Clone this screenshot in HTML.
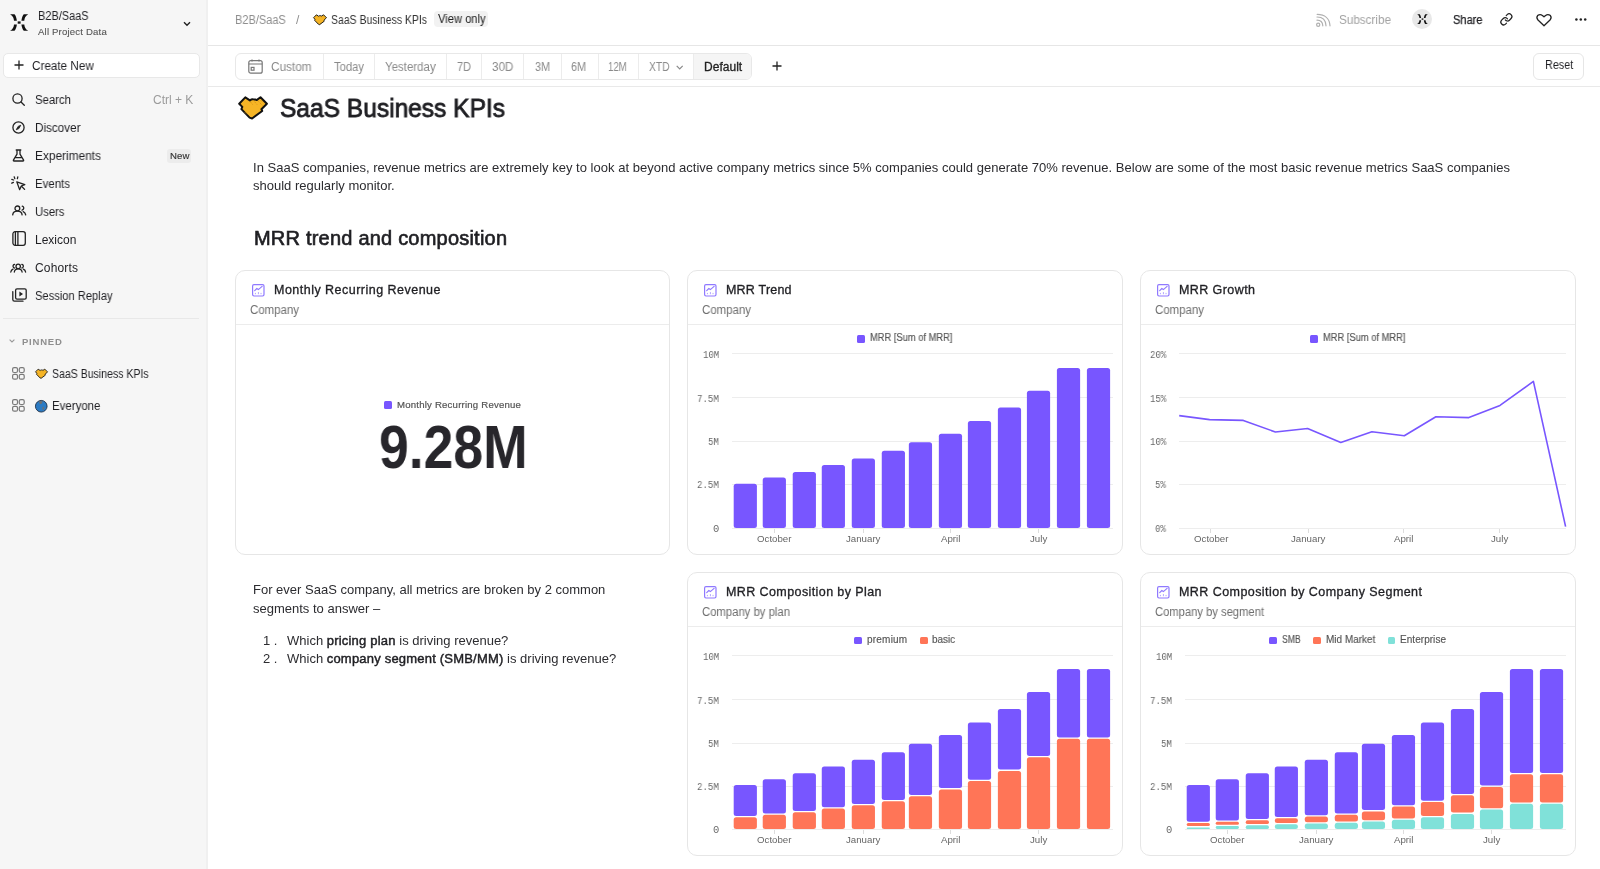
<!DOCTYPE html><html><head><meta charset="utf-8"><style>
html,body{margin:0;padding:0;width:1600px;height:869px;overflow:hidden;background:#fff;}
.t{position:absolute;white-space:nowrap;will-change:transform;}
.r{position:absolute;}
svg.r{overflow:visible}
</style></head><body>
<div class="r" style="left:0px;top:0px;width:208px;height:869px;background:#f6f6f6;"></div>
<div class="r" style="left:206px;top:0px;width:2px;height:869px;background:#f0f0f0;"></div>
<svg class="r" style="left:9.5px;top:14px" width="18.3" height="17.1" viewBox="0 0 18.3 17.1"><g fill="#111"><g id="bl"><path d="M0.1 0.3 L4.5 0.3 C5.6 1.4 6.5 4 6.9 6.7 L4 6.7 C3.8 4.6 3.1 2 0.1 0.3 Z"/></g>
<path transform="translate(18.3,0) scale(-1,1)" d="M0.1 0.3 L4.5 0.3 C5.6 1.4 6.5 4 6.9 6.7 L4 6.7 C3.8 4.6 3.1 2 0.1 0.3 Z"/>
<path transform="translate(0,17.1) scale(1,-1)" d="M0.1 0.3 L4.5 0.3 C5.6 1.4 6.5 4 6.9 6.7 L4 6.7 C3.8 4.6 3.1 2 0.1 0.3 Z"/>
<path transform="translate(18.3,17.1) scale(-1,-1)" d="M0.1 0.3 L4.5 0.3 C5.6 1.4 6.5 4 6.9 6.7 L4 6.7 C3.8 4.6 3.1 2 0.1 0.3 Z"/>
<rect x="7.7" y="7.4" width="2.9" height="2.3"/></g></svg>
<div class="t" style="left:38.00px;top:9.50px;font-size:12px;line-height:12px;color:#1f1f23;font-family:'Liberation Sans',sans-serif;transform:scaleX(0.9138);transform-origin:0 0;">B2B/SaaS</div>
<div class="t" style="left:38.00px;top:27.44px;font-size:9.6px;line-height:9.6px;color:#555;font-family:'Liberation Sans',sans-serif;letter-spacing:0.176px;-webkit-text-stroke:0.1px #555;">All Project Data</div>
<svg class="r" style="left:183px;top:20.7px" width="8" height="6" viewBox="0 0 8 6"><path d="M1 1.2 L4 4.2 L7 1.2" fill="none" stroke="#222" stroke-width="1.4"/></svg>
<div class="r" style="left:3px;top:52.5px;width:196.5px;height:25.5px;background:#fff;border:1px solid #e8e8e8;box-sizing:border-box;border-radius:5px;"></div>
<svg class="r" style="left:14px;top:60px" width="10" height="10" viewBox="0 0 10 10"><path d="M5 0.5V9.5M0.5 5H9.5" stroke="#222" stroke-width="1.3"/></svg>
<div class="t" style="left:32.40px;top:59.90px;font-size:12px;line-height:12px;color:#1f1f23;font-family:'Liberation Sans',sans-serif;transform:scaleX(0.9754);transform-origin:0 0;">Create New</div>
<div class="t" style="left:35.00px;top:93.50px;font-size:12px;line-height:12px;color:#1f1f23;font-family:'Liberation Sans',sans-serif;transform:scaleX(0.9468);transform-origin:0 0;">Search</div>
<div class="t" style="left:35.00px;top:121.50px;font-size:12px;line-height:12px;color:#1f1f23;font-family:'Liberation Sans',sans-serif;transform:scaleX(0.9748);transform-origin:0 0;">Discover</div>
<div class="t" style="left:35.00px;top:149.50px;font-size:12px;line-height:12px;color:#1f1f23;font-family:'Liberation Sans',sans-serif;transform:scaleX(0.9896);transform-origin:0 0;">Experiments</div>
<div class="t" style="left:35.00px;top:177.50px;font-size:12px;line-height:12px;color:#1f1f23;font-family:'Liberation Sans',sans-serif;transform:scaleX(0.9540);transform-origin:0 0;">Events</div>
<div class="t" style="left:35.00px;top:205.50px;font-size:12px;line-height:12px;color:#1f1f23;font-family:'Liberation Sans',sans-serif;transform:scaleX(0.9414);transform-origin:0 0;">Users</div>
<div class="t" style="left:35.00px;top:233.50px;font-size:12px;line-height:12px;color:#1f1f23;font-family:'Liberation Sans',sans-serif;transform:scaleX(0.9912);transform-origin:0 0;">Lexicon</div>
<div class="t" style="left:35.00px;top:261.50px;font-size:12px;line-height:12px;color:#1f1f23;font-family:'Liberation Sans',sans-serif;letter-spacing:0.164px;">Cohorts</div>
<div class="t" style="left:35.00px;top:289.50px;font-size:12px;line-height:12px;color:#1f1f23;font-family:'Liberation Sans',sans-serif;transform:scaleX(0.9295);transform-origin:0 0;">Session Replay</div>
<div class="t" style="left:152.90px;top:93.50px;font-size:12px;line-height:12px;color:#9b9b9b;font-family:'Liberation Sans',sans-serif;transform:scaleX(0.9915);transform-origin:0 0;">Ctrl + K</div>
<div class="r" style="left:166.9px;top:148.6px;width:24.2px;height:14.2px;background:#ececec;border-radius:3px;"></div>
<div class="t" style="left:169.65px;top:150.94px;font-size:9.6px;line-height:9.6px;color:#333;font-family:'Liberation Sans',sans-serif;letter-spacing:0.147px;-webkit-text-stroke:0.15px #333;">New</div>
<svg class="r" style="left:12px;top:92.5px" width="13" height="13" viewBox="0 0 13 13"><circle cx="5.5" cy="5.5" r="4.6" fill="none" stroke="#222" stroke-width="1.3" stroke-linecap="round" stroke-linejoin="round"/><path d="M9 9 L12.3 12.3" fill="none" stroke="#222" stroke-width="1.3" stroke-linecap="round" stroke-linejoin="round"/></svg>
<svg class="r" style="left:12px;top:120.5px" width="13" height="13" viewBox="0 0 13 13"><circle cx="6.5" cy="6.5" r="5.6" fill="none" stroke="#222" stroke-width="1.3" stroke-linecap="round" stroke-linejoin="round"/><path d="M8.8 4.2 L6.9 7.6 L4.2 8.8 L6.1 5.4Z" fill="#222" stroke="#222" stroke-width="0.8" stroke-linejoin="round"/></svg>
<svg class="r" style="left:12px;top:148.5px" width="13" height="13" viewBox="0 0 13 13"><path d="M4.2 1 H8.8 M5 1 V5.2 L1.4 11.2 Q1.2 12 2 12 H11 Q11.8 12 11.6 11.2 L8 5.2 V1 M3 8.6 H10" fill="none" stroke="#222" stroke-width="1.3" stroke-linecap="round" stroke-linejoin="round"/></svg>
<svg class="r" style="left:11px;top:176px" width="15" height="15" viewBox="0 0 15 15"><path d="M5.8 5.8 L13.8 8.6 L10.3 10 L8.6 13.6Z" fill="none" stroke="#222" stroke-width="1.3" stroke-linecap="round" stroke-linejoin="round"/><path d="M3.2 0.8 L3.8 2.6 M0.8 3.4 L2.6 4 M0.8 7.2 L2.4 6.4 M6.8 0.8 L6.4 2.6" fill="none" stroke="#222" stroke-width="1.3" stroke-linecap="round" stroke-linejoin="round"/><path d="M10.5 10.2 L13.6 13.4" fill="none" stroke="#222" stroke-width="1.3" stroke-linecap="round" stroke-linejoin="round"/></svg>
<svg class="r" style="left:11.5px;top:205px" width="14.5" height="10.5" viewBox="0 0 14.5 10.5"><circle cx="5.4" cy="3.4" r="2.4" fill="none" stroke="#222" stroke-width="1.3" stroke-linecap="round" stroke-linejoin="round"/><path d="M0.7 9.8 C1 7.4 2.8 6.2 5.4 6.2 C8 6.2 9.8 7.4 10.1 9.8" fill="none" stroke="#222" stroke-width="1.3" stroke-linecap="round" stroke-linejoin="round"/><path d="M10.2 1.2 C11.6 1.6 12 2.8 11.6 3.8 C11.3 4.6 10.6 5 10 5.1 M11.2 6.6 C12.6 7.2 13.4 8.2 13.7 9.8" fill="none" stroke="#222" stroke-width="1.3" stroke-linecap="round" stroke-linejoin="round"/></svg>
<svg class="r" style="left:11.5px;top:231.3px" width="14" height="15" viewBox="0 0 14 15"><rect x="0.9" y="0.7" width="12.4" height="13.6" rx="2.2" fill="none" stroke="#222" stroke-width="1.3" stroke-linecap="round" stroke-linejoin="round"/><path d="M3.4 1 V14 M5.9 1 V14" fill="none" stroke="#222" stroke-width="1.3" stroke-linecap="round" stroke-linejoin="round"/></svg>
<svg class="r" style="left:10px;top:263px" width="16.5" height="9.5" viewBox="0 0 16.5 9.5"><circle cx="8.2" cy="3.4" r="2.2" fill="none" stroke="#222" stroke-width="1.3" stroke-linecap="round" stroke-linejoin="round"/><path d="M4.3 9 C4.5 6.8 6 5.8 8.2 5.8 C10.4 5.8 11.9 6.8 12.1 9" fill="none" stroke="#222" stroke-width="1.3" stroke-linecap="round" stroke-linejoin="round"/><path d="M4.6 1.4 C3.4 1.6 2.9 2.6 3.1 3.6 C3.3 4.4 3.9 4.9 4.5 5 M3 6.2 C1.7 6.8 1 7.8 0.8 9" fill="none" stroke="#222" stroke-width="1.3" stroke-linecap="round" stroke-linejoin="round"/><path d="M11.8 1.4 C13 1.6 13.5 2.6 13.3 3.6 C13.1 4.4 12.5 4.9 11.9 5 M13.4 6.2 C14.7 6.8 15.4 7.8 15.6 9" fill="none" stroke="#222" stroke-width="1.3" stroke-linecap="round" stroke-linejoin="round"/></svg>
<svg class="r" style="left:11.5px;top:287.5px" width="15" height="14" viewBox="0 0 15 14"><rect x="3.6" y="0.8" width="10.6" height="10.4" rx="1.4" fill="none" stroke="#222" stroke-width="1.3" stroke-linecap="round" stroke-linejoin="round"/><path d="M0.8 3.6 V11.6 Q0.8 13.2 2.4 13.2 H11" fill="none" stroke="#222" stroke-width="1.3" stroke-linecap="round" stroke-linejoin="round"/><path d="M7.4 3.6 L11 6 L7.4 8.4Z" fill="#222"/></svg>
<div class="r" style="left:3px;top:318px;width:196px;height:1px;background:#e8e8e8;"></div>
<svg class="r" style="left:8.5px;top:339px" width="6" height="4" viewBox="0 0 6 4"><path d="M0.6 0.6 L3 3 L5.4 0.6" fill="none" stroke="#999" stroke-width="1.1"/></svg>
<div class="t" style="left:21.50px;top:336.82px;font-size:9.5px;line-height:9.5px;color:#8f8f8f;font-family:'Liberation Sans',sans-serif;font-weight:700;letter-spacing:0.781px;">PINNED</div>
<svg class="r" style="left:12.2px;top:367.2px" width="12.8" height="12.8" viewBox="0 0 12.8 12.8"><g fill="none" stroke="#7a7a7a" stroke-width="1.2"><rect x="0.6" y="0.6" width="4.9" height="4.9" rx="1.5"/><rect x="7.3" y="0.6" width="4.9" height="4.9" rx="1.5"/><rect x="0.6" y="7.3" width="4.9" height="4.9" rx="1.5"/><rect x="7.3" y="7.3" width="4.9" height="4.9" rx="1.5"/></g></svg>
<svg class="r" style="left:12.2px;top:399.2px" width="12.8" height="12.8" viewBox="0 0 12.8 12.8"><g fill="none" stroke="#7a7a7a" stroke-width="1.2"><rect x="0.6" y="0.6" width="4.9" height="4.9" rx="1.5"/><rect x="7.3" y="0.6" width="4.9" height="4.9" rx="1.5"/><rect x="0.6" y="7.3" width="4.9" height="4.9" rx="1.5"/><rect x="7.3" y="7.3" width="4.9" height="4.9" rx="1.5"/></g></svg>
<svg class="r" style="left:34.5px;top:367.5px" width="13" height="11.5" viewBox="0 0 30 24"><path d="M1.2 7.7 L7.3 1.4 L11.9 4.4 Q13.5 3 15.1 3.2 Q17 3.3 18.6 4.1 L22.5 1.3 L28.9 7.7 L23.4 13.2 L24.2 15 L14.1 22.5 L11.6 21.6 L3.4 13.1 L4.3 10.9 Z" fill="#f6b526" stroke="#111" stroke-width="2" stroke-linejoin="round"/><path d="M12.5 6 L15 9 M15.5 4.5 L19 8.5 M20.5 5.5 L24.5 9.5 M22.5 4 L26 7.5 M6.5 16 L9.5 19" stroke="#c88a10" stroke-width="0.9" stroke-dasharray="1 1.2" fill="none"/></svg>
<svg class="r" style="left:34.5px;top:399.7px" width="12.5" height="12.5" viewBox="0 0 12.5 12.5"><circle cx="6.25" cy="6.25" r="5.8" fill="#2b7bc4" stroke="#1d2f45" stroke-width="0.9"/><path d="M4.2 1.2 Q6.4 0.8 7.6 1.6 Q7.4 3 6.6 3.6 Q5.6 4.6 4.8 3.8 Q3.8 2.6 4.2 1.2Z M7.6 6.4 Q9 6.8 9.4 8 Q8.8 9.6 7.6 10.4 Q7.4 8.4 7.6 6.4Z" fill="#6f6f6f"/></svg>
<div class="t" style="left:52.40px;top:367.80px;font-size:12px;line-height:12px;color:#1f1f23;font-family:'Liberation Sans',sans-serif;transform:scaleX(0.8777);transform-origin:0 0;">SaaS Business KPIs</div>
<div class="t" style="left:51.60px;top:399.60px;font-size:12px;line-height:12px;color:#1f1f23;font-family:'Liberation Sans',sans-serif;transform:scaleX(0.9547);transform-origin:0 0;">Everyone</div>
<div class="r" style="left:208px;top:45px;width:1392px;height:1px;background:#e6e6e6;"></div>
<div class="t" style="left:234.60px;top:14.00px;font-size:12px;line-height:12px;color:#8e8e8e;font-family:'Liberation Sans',sans-serif;transform:scaleX(0.9174);transform-origin:0 0;">B2B/SaaS</div>
<div class="t" style="left:295.50px;top:14.00px;font-size:12px;line-height:12px;color:#8e8e8e;font-family:'Liberation Sans',sans-serif;">/</div>
<svg class="r" style="left:312.5px;top:13.5px" width="14" height="11.5" viewBox="0 0 30 24"><path d="M1.2 7.7 L7.3 1.4 L11.9 4.4 Q13.5 3 15.1 3.2 Q17 3.3 18.6 4.1 L22.5 1.3 L28.9 7.7 L23.4 13.2 L24.2 15 L14.1 22.5 L11.6 21.6 L3.4 13.1 L4.3 10.9 Z" fill="#f6b526" stroke="#111" stroke-width="2" stroke-linejoin="round"/><path d="M12.5 6 L15 9 M15.5 4.5 L19 8.5 M20.5 5.5 L24.5 9.5 M22.5 4 L26 7.5 M6.5 16 L9.5 19" stroke="#c88a10" stroke-width="0.9" stroke-dasharray="1 1.2" fill="none"/></svg>
<div class="t" style="left:331.00px;top:14.00px;font-size:12px;line-height:12px;color:#333;font-family:'Liberation Sans',sans-serif;transform:scaleX(0.8723);transform-origin:0 0;">SaaS Business KPIs</div>
<div class="r" style="left:434px;top:10.9px;width:53.5px;height:16.2px;background:#f2f2f2;border-radius:4px;"></div>
<div class="t" style="left:437.50px;top:13.30px;font-size:12px;line-height:12px;color:#1d1d1d;font-family:'Liberation Sans',sans-serif;transform:scaleX(0.9288);transform-origin:0 0;">View only</div>
<svg class="r" style="left:1315.5px;top:13.5px" width="15.5" height="13" viewBox="0 0 15.5 13"><g fill="none" stroke="#b0b0b0" stroke-width="1.2" stroke-linecap="round"><circle cx="2.2" cy="10.8" r="1.6"/><path d="M1 6.2 C4.6 6.2 6.6 8.2 6.8 11.8"/><path d="M1 3 C6.6 3 9.8 6.2 10 11.8"/><path d="M1.2 0.4 C8.8 0.4 13.6 4.6 14 11.8"/></g></svg>
<div class="t" style="left:1339.30px;top:13.80px;font-size:12px;line-height:12px;color:#a3a3a3;font-family:'Liberation Sans',sans-serif;transform:scaleX(0.9744);transform-origin:0 0;">Subscribe</div>
<svg class="r" style="left:1412px;top:9.25px" width="20" height="20" viewBox="0 0 20 20"><circle cx="10" cy="10" r="10" fill="#e8e8e8"/></svg>
<svg class="r" style="left:1416.5px;top:14.2px" width="11" height="10.2" viewBox="0 0 18.3 17.1"><g fill="#111"><g id="bl"><path d="M0.1 0.3 L4.5 0.3 C5.6 1.4 6.5 4 6.9 6.7 L4 6.7 C3.8 4.6 3.1 2 0.1 0.3 Z"/></g>
<path transform="translate(18.3,0) scale(-1,1)" d="M0.1 0.3 L4.5 0.3 C5.6 1.4 6.5 4 6.9 6.7 L4 6.7 C3.8 4.6 3.1 2 0.1 0.3 Z"/>
<path transform="translate(0,17.1) scale(1,-1)" d="M0.1 0.3 L4.5 0.3 C5.6 1.4 6.5 4 6.9 6.7 L4 6.7 C3.8 4.6 3.1 2 0.1 0.3 Z"/>
<path transform="translate(18.3,17.1) scale(-1,-1)" d="M0.1 0.3 L4.5 0.3 C5.6 1.4 6.5 4 6.9 6.7 L4 6.7 C3.8 4.6 3.1 2 0.1 0.3 Z"/>
<rect x="7.7" y="7.4" width="2.9" height="2.3"/></g></svg>
<div class="t" style="left:1452.50px;top:13.80px;font-size:12px;line-height:12px;color:#1f1f23;font-family:'Liberation Sans',sans-serif;transform:scaleX(0.9212);transform-origin:0 0;-webkit-text-stroke:0.25px #1f1f23;">Share</div>
<svg class="r" style="left:1500.2px;top:13.4px" width="13" height="12" viewBox="0.5 0.5 23.5 21.7"><g fill="none" stroke="#222" stroke-width="2.2" stroke-linecap="round" stroke-linejoin="round"><path d="M10 13a5 5 0 0 0 7.54.54l3-3a5 5 0 0 0-7.07-7.07l-1.72 1.71"/><path d="M14 11a5 5 0 0 0-7.54-.54l-3 3a5 5 0 0 0 7.07 7.07l1.71-1.71"/></g></svg>
<svg class="r" style="left:1536px;top:13.5px" width="16" height="12.5" viewBox="0 0 16 12.5"><path d="M8 11.8 L2 6 Q0 3.6 1.6 1.6 Q4 -0.4 6.4 1.4 L8 2.8 L9.6 1.4 Q12 -0.4 14.4 1.6 Q16 3.6 14 6Z" fill="none" stroke="#222" stroke-width="1.3" stroke-linejoin="round"/></svg>
<svg class="r" style="left:1575px;top:18px" width="12" height="3" viewBox="0 0 12 3"><circle cx="1.4" cy="1.5" r="1.25" fill="#222"/><circle cx="5.8" cy="1.5" r="1.25" fill="#222"/><circle cx="10.2" cy="1.5" r="1.25" fill="#222"/></svg>
<div class="r" style="left:208px;top:86px;width:1392px;height:1px;background:#e9e9e9;"></div>
<div class="r" style="left:235px;top:52.5px;width:517px;height:27px;background:#fff;border:1px solid #e8e8e8;box-sizing:border-box;border-radius:6px;"></div>
<div class="r" style="left:693px;top:53.5px;width:58px;height:25px;background:#f5f5f5;border-radius:0 5px 5px 0;"></div>
<div class="r" style="left:322.6px;top:53.5px;width:1px;height:25px;background:#ececec;"></div>
<div class="r" style="left:374.4px;top:53.5px;width:1px;height:25px;background:#ececec;"></div>
<div class="r" style="left:446.3px;top:53.5px;width:1px;height:25px;background:#ececec;"></div>
<div class="r" style="left:480.5px;top:53.5px;width:1px;height:25px;background:#ececec;"></div>
<div class="r" style="left:523.2px;top:53.5px;width:1px;height:25px;background:#ececec;"></div>
<div class="r" style="left:560.7px;top:53.5px;width:1px;height:25px;background:#ececec;"></div>
<div class="r" style="left:597.5px;top:53.5px;width:1px;height:25px;background:#ececec;"></div>
<div class="r" style="left:638px;top:53.5px;width:1px;height:25px;background:#ececec;"></div>
<div class="r" style="left:693px;top:53.5px;width:1px;height:25px;background:#ececec;"></div>
<svg class="r" style="left:247.5px;top:59.1px" width="15" height="15" viewBox="0 0 15 15"><g fill="none" stroke="#777" stroke-width="1.2"><rect x="0.8" y="1.6" width="13.4" height="12.6" rx="2"/><path d="M0.8 5 H14.2 M4 0.4 V2.4 M11 0.4 V2.4"/><rect x="3.2" y="8.4" width="2.8" height="2.8"/></g></svg>
<div class="t" style="left:271.40px;top:60.80px;font-size:12px;line-height:12px;color:#8a8a8a;font-family:'Liberation Sans',sans-serif;transform:scaleX(0.9820);transform-origin:0 0;">Custom</div>
<div class="t" style="left:333.90px;top:60.80px;font-size:12px;line-height:12px;color:#8a8a8a;font-family:'Liberation Sans',sans-serif;transform:scaleX(0.9369);transform-origin:0 0;">Today</div>
<div class="t" style="left:384.90px;top:60.80px;font-size:12px;line-height:12px;color:#8a8a8a;font-family:'Liberation Sans',sans-serif;transform:scaleX(0.9560);transform-origin:0 0;">Yesterday</div>
<div class="t" style="left:456.80px;top:60.80px;font-size:12px;line-height:12px;color:#8a8a8a;font-family:'Liberation Sans',sans-serif;transform:scaleX(0.9061);transform-origin:0 0;">7D</div>
<div class="t" style="left:491.70px;top:60.80px;font-size:12px;line-height:12px;color:#8a8a8a;font-family:'Liberation Sans',sans-serif;transform:scaleX(0.9721);transform-origin:0 0;">30D</div>
<div class="t" style="left:534.50px;top:60.80px;font-size:12px;line-height:12px;color:#8a8a8a;font-family:'Liberation Sans',sans-serif;transform:scaleX(0.8998);transform-origin:0 0;">3M</div>
<div class="t" style="left:571.20px;top:60.80px;font-size:12px;line-height:12px;color:#8a8a8a;font-family:'Liberation Sans',sans-serif;transform:scaleX(0.8998);transform-origin:0 0;">6M</div>
<div class="t" style="left:608.00px;top:60.80px;font-size:12px;line-height:12px;color:#8a8a8a;font-family:'Liberation Sans',sans-serif;transform:scaleX(0.8010);transform-origin:0 0;">12M</div>
<div class="t" style="left:648.80px;top:60.80px;font-size:12px;line-height:12px;color:#8a8a8a;font-family:'Liberation Sans',sans-serif;transform:scaleX(0.8583);transform-origin:0 0;">XTD</div>
<div class="t" style="left:703.60px;top:60.80px;font-size:12px;line-height:12px;color:#222;font-family:'Liberation Sans',sans-serif;letter-spacing:0.030px;-webkit-text-stroke:0.3px #222;">Default</div>
<svg class="r" style="left:675.5px;top:65px" width="7.5" height="5" viewBox="0 0 7.5 5"><path d="M0.7 0.8 L3.7 3.8 L6.7 0.8" fill="none" stroke="#8a8a8a" stroke-width="1.2"/></svg>
<svg class="r" style="left:771.5px;top:61px" width="10" height="10" viewBox="0 0 10 10"><path d="M5 0.5V9.5M0.5 5H9.5" stroke="#222" stroke-width="1.3"/></svg>
<div class="r" style="left:1533.3px;top:52.5px;width:51.2px;height:27px;background:#fff;border:1px solid #e6e6e6;box-sizing:border-box;border-radius:6px;"></div>
<div class="t" style="left:1545.00px;top:59.40px;font-size:12px;line-height:12px;color:#1f1f23;font-family:'Liberation Sans',sans-serif;transform:scaleX(0.9028);transform-origin:0 0;">Reset</div>
<svg class="r" style="left:238px;top:96px" width="30" height="24" viewBox="0 0 30 24"><path d="M1.2 7.7 L7.3 1.4 L11.9 4.4 Q13.5 3 15.1 3.2 Q17 3.3 18.6 4.1 L22.5 1.3 L28.9 7.7 L23.4 13.2 L24.2 15 L14.1 22.5 L11.6 21.6 L3.4 13.1 L4.3 10.9 Z" fill="#f6b526" stroke="#111" stroke-width="2" stroke-linejoin="round"/><path d="M12.5 6 L15 9 M15.5 4.5 L19 8.5 M20.5 5.5 L24.5 9.5 M22.5 4 L26 7.5 M6.5 16 L9.5 19" stroke="#c88a10" stroke-width="0.9" stroke-dasharray="1 1.2" fill="none"/></svg>
<div class="t" style="left:279.70px;top:94.80px;font-size:26px;line-height:26px;color:#1f1f23;font-family:'Liberation Sans',sans-serif;transform:scaleX(0.9435);transform-origin:0 0;-webkit-text-stroke:0.85px #1f1f23;">SaaS Business KPIs</div>
<div class="t" style="left:253.00px;top:161.35px;font-size:13px;line-height:13px;color:#2c2c30;font-family:'Liberation Sans',sans-serif;letter-spacing:0.016px;">In SaaS companies, revenue metrics are extremely key to look at beyond active company metrics since 5% companies could generate 70% revenue. Below are some of the most basic revenue metrics SaaS companies</div>
<div class="t" style="left:253.00px;top:179.35px;font-size:13px;line-height:13px;color:#2c2c30;font-family:'Liberation Sans',sans-serif;">should regularly monitor.</div>
<div class="t" style="left:254.00px;top:227.60px;font-size:20px;line-height:20px;color:#1f1f23;font-family:'Liberation Sans',sans-serif;letter-spacing:0.213px;-webkit-text-stroke:0.65px #1f1f23;">MRR trend and composition</div>
<div class="t" style="left:253.00px;top:583.45px;font-size:13px;line-height:13px;color:#2c2c30;font-family:'Liberation Sans',sans-serif;transform:scaleX(0.9990);transform-origin:0 0;">For ever SaaS company, all metrics are broken by 2 common</div>
<div class="t" style="left:253.00px;top:601.55px;font-size:13px;line-height:13px;color:#2c2c30;font-family:'Liberation Sans',sans-serif;">segments to answer –</div>
<div class="t" style="left:262.70px;top:634.25px;font-size:13px;line-height:13px;color:#2c2c30;font-family:'Liberation Sans',sans-serif;">1 .</div>
<div class="t" style="left:262.70px;top:652.05px;font-size:13px;line-height:13px;color:#2c2c30;font-family:'Liberation Sans',sans-serif;">2 .</div>
<div class="t" style="left:286.9px;top:634.25px;font-size:13px;line-height:13px;color:#2c2c30;font-family:'Liberation Sans',sans-serif;">Which <span style="color:#1f1f23;-webkit-text-stroke:0.45px #1f1f23;letter-spacing:0.2px">pricing plan</span> is driving revenue?</div>
<div class="t" style="left:286.9px;top:652.05px;font-size:13px;line-height:13px;color:#2c2c30;font-family:'Liberation Sans',sans-serif;">Which <span style="color:#1f1f23;-webkit-text-stroke:0.45px #1f1f23;letter-spacing:0.2px">company segment (SMB/MM)</span> is driving revenue?</div>
<div class="r" style="left:235px;top:270px;width:435px;height:285px;background:#fff;border:1px solid #e6e6e6;box-sizing:border-box;border-radius:10px;"></div>
<div class="r" style="left:236px;top:324px;width:433px;height:1px;background:#ececec;"></div>
<svg class="r" style="left:251.5px;top:283.8px" width="12.6" height="12.6" viewBox="0 0 12.6 12.6"><g fill="none" stroke="#8f79ff" stroke-width="1.2"><rect x="0.6" y="0.6" width="11.4" height="11.4" rx="1.4"/><path d="M2.7 6.6 L4.8 4.5 L6.4 5.6 L10.1 2.4" stroke-linecap="round"/></g><g fill="#b9abff"><rect x="2.9" y="8.9" width="1.1" height="1.3"/><rect x="5.9" y="8.1" width="1.1" height="2.1"/><rect x="8.5" y="8.9" width="1.1" height="1.3"/></g></svg>
<div class="t" style="left:274.40px;top:284.48px;font-size:12.5px;line-height:12.5px;color:#1f1f23;font-family:'Liberation Sans',sans-serif;letter-spacing:0.482px;-webkit-text-stroke:0.32px #1f1f23;">Monthly Recurring Revenue</div>
<div class="t" style="left:249.50px;top:304.20px;font-size:12px;line-height:12px;color:#6e6e6e;font-family:'Liberation Sans',sans-serif;transform:scaleX(0.9541);transform-origin:0 0;">Company</div>
<div class="r" style="left:383.8px;top:400.6px;width:8.3px;height:8.2px;background:#7856ff;border-radius:1.5px;"></div>
<div class="t" style="left:396.80px;top:400.34px;font-size:9.6px;line-height:9.6px;color:#555;font-family:'Liberation Sans',sans-serif;letter-spacing:0.209px;-webkit-text-stroke:0.2px #555;">Monthly Recurring Revenue</div>
<div class="t" style="left:379.30px;top:416.30px;font-size:62px;line-height:62px;color:#27262b;font-family:'Liberation Sans',sans-serif;font-weight:700;transform:scaleX(0.8618);transform-origin:0 0;">9.28M</div>
<div class="r" style="left:687px;top:270px;width:436px;height:285px;background:#fff;border:1px solid #e6e6e6;box-sizing:border-box;border-radius:10px;"></div>
<div class="r" style="left:688px;top:324px;width:434px;height:1px;background:#ececec;"></div>
<svg class="r" style="left:703.5px;top:283.8px" width="12.6" height="12.6" viewBox="0 0 12.6 12.6"><g fill="none" stroke="#8f79ff" stroke-width="1.2"><rect x="0.6" y="0.6" width="11.4" height="11.4" rx="1.4"/><path d="M2.7 6.6 L4.8 4.5 L6.4 5.6 L10.1 2.4" stroke-linecap="round"/></g><g fill="#b9abff"><rect x="2.9" y="8.9" width="1.1" height="1.3"/><rect x="5.9" y="8.1" width="1.1" height="2.1"/><rect x="8.5" y="8.9" width="1.1" height="1.3"/></g></svg>
<div class="t" style="left:726.40px;top:284.48px;font-size:12.5px;line-height:12.5px;color:#1f1f23;font-family:'Liberation Sans',sans-serif;letter-spacing:0.199px;-webkit-text-stroke:0.32px #1f1f23;">MRR Trend</div>
<div class="t" style="left:701.50px;top:304.20px;font-size:12px;line-height:12px;color:#6e6e6e;font-family:'Liberation Sans',sans-serif;transform:scaleX(0.9541);transform-origin:0 0;">Company</div>
<div class="r" style="left:857.4px;top:335.0px;width:7.8px;height:7.8px;background:#7856ff;border-radius:1.5px;"></div>
<div class="t" style="left:870.00px;top:333.40px;font-size:10px;line-height:10px;color:#555;font-family:'Liberation Sans',sans-serif;transform:scaleX(0.9339);transform-origin:0 0;-webkit-text-stroke:0.15px #555;">MRR [Sum of MRR]</div>
<div class="r" style="left:731.8px;top:528px;width:380.9000000000001px;height:1px;background:#ededed;"></div>
<div class="t" style="left:712.70px;top:523.72px;font-size:10.5px;line-height:10.5px;color:#6a6a6a;font-family:'Liberation Mono',monospace;">0</div>
<div class="r" style="left:731.8px;top:484px;width:380.9000000000001px;height:1px;background:#ededed;"></div>
<div class="t" style="left:697.20px;top:480.07px;font-size:10.5px;line-height:10.5px;color:#6a6a6a;font-family:'Liberation Mono',monospace;transform:scaleX(0.8650);transform-origin:0 0;">2.5M</div>
<div class="r" style="left:731.8px;top:441px;width:380.9000000000001px;height:1px;background:#ededed;"></div>
<div class="t" style="left:708.10px;top:437.42px;font-size:10.5px;line-height:10.5px;color:#6a6a6a;font-family:'Liberation Mono',monospace;transform:scaleX(0.8650);transform-origin:0 0;">5M</div>
<div class="r" style="left:731.8px;top:397px;width:380.9000000000001px;height:1px;background:#ededed;"></div>
<div class="t" style="left:697.20px;top:393.77px;font-size:10.5px;line-height:10.5px;color:#6a6a6a;font-family:'Liberation Mono',monospace;transform:scaleX(0.8650);transform-origin:0 0;">7.5M</div>
<div class="r" style="left:731.8px;top:353px;width:380.9000000000001px;height:1px;background:#ededed;"></div>
<div class="t" style="left:702.65px;top:350.12px;font-size:10.5px;line-height:10.5px;color:#6a6a6a;font-family:'Liberation Mono',monospace;transform:scaleX(0.8650);transform-origin:0 0;">10M</div>
<div class="r" style="left:773.8309999999999px;top:529px;width:1px;height:4px;background:#dddddd;"></div>
<div class="t" style="left:757.08px;top:534.46px;font-size:9.7px;line-height:9.7px;color:#666;font-family:'Liberation Sans',sans-serif;">October</div>
<div class="r" style="left:862.8593999999999px;top:529px;width:1px;height:4px;background:#dddddd;"></div>
<div class="t" style="left:846.10px;top:534.46px;font-size:9.7px;line-height:9.7px;color:#666;font-family:'Liberation Sans',sans-serif;">January</div>
<div class="r" style="left:949.9523999999999px;top:529px;width:1px;height:4px;background:#dddddd;"></div>
<div class="t" style="left:940.75px;top:534.46px;font-size:9.7px;line-height:9.7px;color:#666;font-family:'Liberation Sans',sans-serif;">April</div>
<div class="r" style="left:1038.0131px;top:529px;width:1px;height:4px;background:#dddddd;"></div>
<div class="t" style="left:1029.89px;top:534.46px;font-size:9.7px;line-height:9.7px;color:#666;font-family:'Liberation Sans',sans-serif;">July</div>
<svg class="r" style="left:0;top:0" width="1600" height="869"><rect x="733.70" y="483.70" width="23.2" height="44.30" rx="2.50" fill="#7856ff"/><rect x="762.73" y="477.60" width="23.2" height="50.40" rx="2.50" fill="#7856ff"/><rect x="792.73" y="472.00" width="23.2" height="56.00" rx="2.50" fill="#7856ff"/><rect x="821.76" y="465.00" width="23.2" height="63.00" rx="2.50" fill="#7856ff"/><rect x="851.76" y="458.40" width="23.2" height="69.60" rx="2.50" fill="#7856ff"/><rect x="881.76" y="450.80" width="23.2" height="77.20" rx="2.50" fill="#7856ff"/><rect x="908.85" y="442.20" width="23.2" height="85.80" rx="2.50" fill="#7856ff"/><rect x="938.85" y="433.80" width="23.2" height="94.20" rx="2.50" fill="#7856ff"/><rect x="967.88" y="421.10" width="23.2" height="106.90" rx="2.50" fill="#7856ff"/><rect x="997.88" y="407.50" width="23.2" height="120.50" rx="2.50" fill="#7856ff"/><rect x="1026.91" y="390.80" width="23.2" height="137.20" rx="2.50" fill="#7856ff"/><rect x="1056.91" y="368.00" width="23.2" height="160.00" rx="2.50" fill="#7856ff"/><rect x="1086.91" y="368.00" width="23.2" height="160.00" rx="2.50" fill="#7856ff"/></svg>
<div class="r" style="left:1140px;top:270px;width:436px;height:285px;background:#fff;border:1px solid #e6e6e6;box-sizing:border-box;border-radius:10px;"></div>
<div class="r" style="left:1141px;top:324px;width:434px;height:1px;background:#ececec;"></div>
<svg class="r" style="left:1156.5px;top:283.8px" width="12.6" height="12.6" viewBox="0 0 12.6 12.6"><g fill="none" stroke="#8f79ff" stroke-width="1.2"><rect x="0.6" y="0.6" width="11.4" height="11.4" rx="1.4"/><path d="M2.7 6.6 L4.8 4.5 L6.4 5.6 L10.1 2.4" stroke-linecap="round"/></g><g fill="#b9abff"><rect x="2.9" y="8.9" width="1.1" height="1.3"/><rect x="5.9" y="8.1" width="1.1" height="2.1"/><rect x="8.5" y="8.9" width="1.1" height="1.3"/></g></svg>
<div class="t" style="left:1179.40px;top:284.48px;font-size:12.5px;line-height:12.5px;color:#1f1f23;font-family:'Liberation Sans',sans-serif;letter-spacing:0.419px;-webkit-text-stroke:0.32px #1f1f23;">MRR Growth</div>
<div class="t" style="left:1154.50px;top:304.20px;font-size:12px;line-height:12px;color:#6e6e6e;font-family:'Liberation Sans',sans-serif;transform:scaleX(0.9541);transform-origin:0 0;">Company</div>
<div class="r" style="left:1310px;top:335.0px;width:7.8px;height:7.8px;background:#7856ff;border-radius:1.5px;"></div>
<div class="t" style="left:1322.60px;top:333.40px;font-size:10px;line-height:10px;color:#555;font-family:'Liberation Sans',sans-serif;transform:scaleX(0.9339);transform-origin:0 0;-webkit-text-stroke:0.15px #555;">MRR [Sum of MRR]</div>
<div class="r" style="left:1179.2px;top:528px;width:387.0999999999999px;height:1px;background:#ededed;"></div>
<div class="t" style="left:1155.10px;top:523.72px;font-size:10.5px;line-height:10.5px;color:#6a6a6a;font-family:'Liberation Mono',monospace;transform:scaleX(0.8650);transform-origin:0 0;">0%</div>
<div class="r" style="left:1179.2px;top:484px;width:387.0999999999999px;height:1px;background:#ededed;"></div>
<div class="t" style="left:1155.10px;top:480.07px;font-size:10.5px;line-height:10.5px;color:#6a6a6a;font-family:'Liberation Mono',monospace;transform:scaleX(0.8650);transform-origin:0 0;">5%</div>
<div class="r" style="left:1179.2px;top:441px;width:387.0999999999999px;height:1px;background:#ededed;"></div>
<div class="t" style="left:1149.65px;top:437.42px;font-size:10.5px;line-height:10.5px;color:#6a6a6a;font-family:'Liberation Mono',monospace;transform:scaleX(0.8650);transform-origin:0 0;">10%</div>
<div class="r" style="left:1179.2px;top:397px;width:387.0999999999999px;height:1px;background:#ededed;"></div>
<div class="t" style="left:1149.65px;top:393.77px;font-size:10.5px;line-height:10.5px;color:#6a6a6a;font-family:'Liberation Mono',monospace;transform:scaleX(0.8650);transform-origin:0 0;">15%</div>
<div class="r" style="left:1179.2px;top:353px;width:387.0999999999999px;height:1px;background:#ededed;"></div>
<div class="t" style="left:1149.65px;top:350.12px;font-size:10.5px;line-height:10.5px;color:#6a6a6a;font-family:'Liberation Mono',monospace;transform:scaleX(0.8650);transform-origin:0 0;">20%</div>
<div class="r" style="left:1210.458px;top:529px;width:1px;height:4px;background:#dddddd;"></div>
<div class="t" style="left:1193.71px;top:534.46px;font-size:9.7px;line-height:9.7px;color:#666;font-family:'Liberation Sans',sans-serif;">October</div>
<div class="r" style="left:1307.8492px;top:529px;width:1px;height:4px;background:#dddddd;"></div>
<div class="t" style="left:1291.09px;top:534.46px;font-size:9.7px;line-height:9.7px;color:#666;font-family:'Liberation Sans',sans-serif;">January</div>
<div class="r" style="left:1403.1232px;top:529px;width:1px;height:4px;background:#dddddd;"></div>
<div class="t" style="left:1393.92px;top:534.46px;font-size:9.7px;line-height:9.7px;color:#666;font-family:'Liberation Sans',sans-serif;">April</div>
<div class="r" style="left:1499.4558000000002px;top:529px;width:1px;height:4px;background:#dddddd;"></div>
<div class="t" style="left:1491.33px;top:534.46px;font-size:9.7px;line-height:9.7px;color:#666;font-family:'Liberation Sans',sans-serif;">July</div>
<svg class="r" style="left:0;top:0" width="1600" height="869"><path d="M1179.2 415.6 L1209.6 419.6 L1243.3 420.4 L1275.4 432.0 L1307.6 428.5 L1340.8 442.4 L1371.9 431.8 L1404.3 435.8 L1435.9 416.8 L1468.9 417.6 L1500.0 405.4 L1533.4 381.4 L1565.6 526.6" fill="none" stroke="#7856ff" stroke-width="1.6" stroke-linejoin="round"/></svg>
<div class="r" style="left:687px;top:572px;width:436px;height:284px;background:#fff;border:1px solid #e6e6e6;box-sizing:border-box;border-radius:10px;"></div>
<div class="r" style="left:688px;top:626px;width:434px;height:1px;background:#ececec;"></div>
<svg class="r" style="left:703.5px;top:585.8px" width="12.6" height="12.6" viewBox="0 0 12.6 12.6"><g fill="none" stroke="#8f79ff" stroke-width="1.2"><rect x="0.6" y="0.6" width="11.4" height="11.4" rx="1.4"/><path d="M2.7 6.6 L4.8 4.5 L6.4 5.6 L10.1 2.4" stroke-linecap="round"/></g><g fill="#b9abff"><rect x="2.9" y="8.9" width="1.1" height="1.3"/><rect x="5.9" y="8.1" width="1.1" height="2.1"/><rect x="8.5" y="8.9" width="1.1" height="1.3"/></g></svg>
<div class="t" style="left:726.40px;top:586.48px;font-size:12.5px;line-height:12.5px;color:#1f1f23;font-family:'Liberation Sans',sans-serif;letter-spacing:0.405px;-webkit-text-stroke:0.32px #1f1f23;">MRR Composition by Plan</div>
<div class="t" style="left:701.50px;top:606.20px;font-size:12px;line-height:12px;color:#6e6e6e;font-family:'Liberation Sans',sans-serif;transform:scaleX(0.9423);transform-origin:0 0;">Company by plan</div>
<div class="r" style="left:854px;top:636.6px;width:7.8px;height:7.8px;background:#7856ff;border-radius:1.5px;"></div>
<div class="t" style="left:867.00px;top:635.00px;font-size:10px;line-height:10px;color:#555;font-family:'Liberation Sans',sans-serif;letter-spacing:0.217px;-webkit-text-stroke:0.15px #555;">premium</div>
<div class="r" style="left:920.1px;top:636.6px;width:7.8px;height:7.8px;background:#ff7557;border-radius:1.5px;"></div>
<div class="t" style="left:932.40px;top:635.00px;font-size:10px;line-height:10px;color:#555;font-family:'Liberation Sans',sans-serif;transform:scaleX(0.9895);transform-origin:0 0;-webkit-text-stroke:0.15px #555;">basic</div>
<div class="r" style="left:731.8px;top:829px;width:380.9000000000001px;height:1px;background:#ededed;"></div>
<div class="t" style="left:712.70px;top:824.72px;font-size:10.5px;line-height:10.5px;color:#6a6a6a;font-family:'Liberation Mono',monospace;">0</div>
<div class="r" style="left:731.8px;top:786px;width:380.9000000000001px;height:1px;background:#ededed;"></div>
<div class="t" style="left:697.20px;top:782.07px;font-size:10.5px;line-height:10.5px;color:#6a6a6a;font-family:'Liberation Mono',monospace;transform:scaleX(0.8650);transform-origin:0 0;">2.5M</div>
<div class="r" style="left:731.8px;top:743px;width:380.9000000000001px;height:1px;background:#ededed;"></div>
<div class="t" style="left:708.10px;top:739.42px;font-size:10.5px;line-height:10.5px;color:#6a6a6a;font-family:'Liberation Mono',monospace;transform:scaleX(0.8650);transform-origin:0 0;">5M</div>
<div class="r" style="left:731.8px;top:699px;width:380.9000000000001px;height:1px;background:#ededed;"></div>
<div class="t" style="left:697.20px;top:695.77px;font-size:10.5px;line-height:10.5px;color:#6a6a6a;font-family:'Liberation Mono',monospace;transform:scaleX(0.8650);transform-origin:0 0;">7.5M</div>
<div class="r" style="left:731.8px;top:655px;width:380.9000000000001px;height:1px;background:#ededed;"></div>
<div class="t" style="left:702.65px;top:652.12px;font-size:10.5px;line-height:10.5px;color:#6a6a6a;font-family:'Liberation Mono',monospace;transform:scaleX(0.8650);transform-origin:0 0;">10M</div>
<div class="r" style="left:773.8309999999999px;top:830px;width:1px;height:4px;background:#dddddd;"></div>
<div class="t" style="left:757.08px;top:835.46px;font-size:9.7px;line-height:9.7px;color:#666;font-family:'Liberation Sans',sans-serif;">October</div>
<div class="r" style="left:862.8593999999999px;top:830px;width:1px;height:4px;background:#dddddd;"></div>
<div class="t" style="left:846.10px;top:835.46px;font-size:9.7px;line-height:9.7px;color:#666;font-family:'Liberation Sans',sans-serif;">January</div>
<div class="r" style="left:949.9523999999999px;top:830px;width:1px;height:4px;background:#dddddd;"></div>
<div class="t" style="left:940.75px;top:835.46px;font-size:9.7px;line-height:9.7px;color:#666;font-family:'Liberation Sans',sans-serif;">April</div>
<div class="r" style="left:1038.0131px;top:830px;width:1px;height:4px;background:#dddddd;"></div>
<div class="t" style="left:1029.89px;top:835.46px;font-size:9.7px;line-height:9.7px;color:#666;font-family:'Liberation Sans',sans-serif;">July</div>
<svg class="r" style="left:0;top:0" width="1600" height="869"><rect x="733.70" y="817.20" width="23.2" height="11.80" rx="2.50" fill="#ff7557"/><rect x="733.70" y="784.90" width="23.2" height="31.00" rx="2.50" fill="#7856ff"/><rect x="762.73" y="814.70" width="23.2" height="14.30" rx="2.50" fill="#ff7557"/><rect x="762.73" y="779.30" width="23.2" height="34.10" rx="2.50" fill="#7856ff"/><rect x="792.73" y="812.20" width="23.2" height="16.80" rx="2.50" fill="#ff7557"/><rect x="792.73" y="773.20" width="23.2" height="37.70" rx="2.50" fill="#7856ff"/><rect x="821.76" y="808.60" width="23.2" height="20.40" rx="2.50" fill="#ff7557"/><rect x="821.76" y="766.60" width="23.2" height="40.70" rx="2.50" fill="#7856ff"/><rect x="851.76" y="805.30" width="23.2" height="23.70" rx="2.50" fill="#ff7557"/><rect x="851.76" y="759.80" width="23.2" height="44.20" rx="2.50" fill="#7856ff"/><rect x="881.76" y="801.30" width="23.2" height="27.70" rx="2.50" fill="#ff7557"/><rect x="881.76" y="752.20" width="23.2" height="47.80" rx="2.50" fill="#7856ff"/><rect x="908.85" y="796.20" width="23.2" height="32.80" rx="2.50" fill="#ff7557"/><rect x="908.85" y="743.80" width="23.2" height="51.10" rx="2.50" fill="#7856ff"/><rect x="938.85" y="789.40" width="23.2" height="39.60" rx="2.50" fill="#ff7557"/><rect x="938.85" y="735.00" width="23.2" height="53.10" rx="2.50" fill="#7856ff"/><rect x="967.88" y="781.00" width="23.2" height="48.00" rx="2.50" fill="#ff7557"/><rect x="967.88" y="722.60" width="23.2" height="57.10" rx="2.50" fill="#7856ff"/><rect x="997.88" y="770.90" width="23.2" height="58.10" rx="2.50" fill="#ff7557"/><rect x="997.88" y="708.90" width="23.2" height="60.70" rx="2.50" fill="#7856ff"/><rect x="1026.91" y="757.20" width="23.2" height="71.80" rx="2.50" fill="#ff7557"/><rect x="1026.91" y="691.90" width="23.2" height="64.00" rx="2.50" fill="#7856ff"/><rect x="1056.91" y="738.80" width="23.2" height="90.20" rx="2.50" fill="#ff7557"/><rect x="1056.91" y="669.10" width="23.2" height="68.40" rx="2.50" fill="#7856ff"/><rect x="1086.91" y="738.80" width="23.2" height="90.20" rx="2.50" fill="#ff7557"/><rect x="1086.91" y="669.10" width="23.2" height="68.40" rx="2.50" fill="#7856ff"/></svg>
<div class="r" style="left:1140px;top:572px;width:436px;height:284px;background:#fff;border:1px solid #e6e6e6;box-sizing:border-box;border-radius:10px;"></div>
<div class="r" style="left:1141px;top:626px;width:434px;height:1px;background:#ececec;"></div>
<svg class="r" style="left:1156.5px;top:585.8px" width="12.6" height="12.6" viewBox="0 0 12.6 12.6"><g fill="none" stroke="#8f79ff" stroke-width="1.2"><rect x="0.6" y="0.6" width="11.4" height="11.4" rx="1.4"/><path d="M2.7 6.6 L4.8 4.5 L6.4 5.6 L10.1 2.4" stroke-linecap="round"/></g><g fill="#b9abff"><rect x="2.9" y="8.9" width="1.1" height="1.3"/><rect x="5.9" y="8.1" width="1.1" height="2.1"/><rect x="8.5" y="8.9" width="1.1" height="1.3"/></g></svg>
<div class="t" style="left:1179.40px;top:586.48px;font-size:12.5px;line-height:12.5px;color:#1f1f23;font-family:'Liberation Sans',sans-serif;letter-spacing:0.437px;-webkit-text-stroke:0.32px #1f1f23;">MRR Composition by Company Segment</div>
<div class="t" style="left:1154.50px;top:606.20px;font-size:12px;line-height:12px;color:#6e6e6e;font-family:'Liberation Sans',sans-serif;transform:scaleX(0.9338);transform-origin:0 0;">Company by segment</div>
<div class="r" style="left:1269px;top:636.6px;width:7.8px;height:7.8px;background:#7856ff;border-radius:1.5px;"></div>
<div class="t" style="left:1281.60px;top:635.00px;font-size:10px;line-height:10px;color:#555;font-family:'Liberation Sans',sans-serif;transform:scaleX(0.8629);transform-origin:0 0;-webkit-text-stroke:0.15px #555;">SMB</div>
<div class="r" style="left:1312.9px;top:636.6px;width:7.8px;height:7.8px;background:#ff7557;border-radius:1.5px;"></div>
<div class="t" style="left:1325.60px;top:635.00px;font-size:10px;line-height:10px;color:#555;font-family:'Liberation Sans',sans-serif;transform:scaleX(0.9949);transform-origin:0 0;-webkit-text-stroke:0.15px #555;">Mid Market</div>
<div class="r" style="left:1387.5px;top:636.6px;width:7.8px;height:7.8px;background:#80e1d9;border-radius:1.5px;"></div>
<div class="t" style="left:1400.30px;top:635.00px;font-size:10px;line-height:10px;color:#555;font-family:'Liberation Sans',sans-serif;letter-spacing:0.047px;-webkit-text-stroke:0.15px #555;">Enterprise</div>
<div class="r" style="left:1185.1px;top:829px;width:380.70000000000005px;height:1px;background:#ededed;"></div>
<div class="t" style="left:1165.70px;top:824.72px;font-size:10.5px;line-height:10.5px;color:#6a6a6a;font-family:'Liberation Mono',monospace;">0</div>
<div class="r" style="left:1185.1px;top:786px;width:380.70000000000005px;height:1px;background:#ededed;"></div>
<div class="t" style="left:1150.20px;top:782.07px;font-size:10.5px;line-height:10.5px;color:#6a6a6a;font-family:'Liberation Mono',monospace;transform:scaleX(0.8650);transform-origin:0 0;">2.5M</div>
<div class="r" style="left:1185.1px;top:743px;width:380.70000000000005px;height:1px;background:#ededed;"></div>
<div class="t" style="left:1161.10px;top:739.42px;font-size:10.5px;line-height:10.5px;color:#6a6a6a;font-family:'Liberation Mono',monospace;transform:scaleX(0.8650);transform-origin:0 0;">5M</div>
<div class="r" style="left:1185.1px;top:699px;width:380.70000000000005px;height:1px;background:#ededed;"></div>
<div class="t" style="left:1150.20px;top:695.77px;font-size:10.5px;line-height:10.5px;color:#6a6a6a;font-family:'Liberation Mono',monospace;transform:scaleX(0.8650);transform-origin:0 0;">7.5M</div>
<div class="r" style="left:1185.1px;top:655px;width:380.70000000000005px;height:1px;background:#ededed;"></div>
<div class="t" style="left:1155.65px;top:652.12px;font-size:10.5px;line-height:10.5px;color:#6a6a6a;font-family:'Liberation Mono',monospace;transform:scaleX(0.8650);transform-origin:0 0;">10M</div>
<div class="r" style="left:1226.831px;top:830px;width:1px;height:4px;background:#dddddd;"></div>
<div class="t" style="left:1210.08px;top:835.46px;font-size:9.7px;line-height:9.7px;color:#666;font-family:'Liberation Sans',sans-serif;">October</div>
<div class="r" style="left:1315.8594px;top:830px;width:1px;height:4px;background:#dddddd;"></div>
<div class="t" style="left:1299.10px;top:835.46px;font-size:9.7px;line-height:9.7px;color:#666;font-family:'Liberation Sans',sans-serif;">January</div>
<div class="r" style="left:1402.9524px;top:830px;width:1px;height:4px;background:#dddddd;"></div>
<div class="t" style="left:1393.75px;top:835.46px;font-size:9.7px;line-height:9.7px;color:#666;font-family:'Liberation Sans',sans-serif;">April</div>
<div class="r" style="left:1491.0131px;top:830px;width:1px;height:4px;background:#dddddd;"></div>
<div class="t" style="left:1482.89px;top:835.46px;font-size:9.7px;line-height:9.7px;color:#666;font-family:'Liberation Sans',sans-serif;">July</div>
<svg class="r" style="left:0;top:0" width="1600" height="869"><rect x="1186.70" y="827.40" width="23.2" height="1.60" rx="0.80" fill="#80e1d9"/><rect x="1186.70" y="823.10" width="23.2" height="3.00" rx="1.50" fill="#ff7557"/><rect x="1186.70" y="784.90" width="23.2" height="36.90" rx="2.50" fill="#7856ff"/><rect x="1215.73" y="826.10" width="23.2" height="2.90" rx="1.45" fill="#80e1d9"/><rect x="1215.73" y="821.80" width="23.2" height="3.00" rx="1.50" fill="#ff7557"/><rect x="1215.73" y="779.30" width="23.2" height="41.20" rx="2.50" fill="#7856ff"/><rect x="1245.73" y="825.30" width="23.2" height="3.70" rx="1.85" fill="#80e1d9"/><rect x="1245.73" y="820.30" width="23.2" height="3.70" rx="1.85" fill="#ff7557"/><rect x="1245.73" y="773.20" width="23.2" height="45.80" rx="2.50" fill="#7856ff"/><rect x="1274.76" y="824.30" width="23.2" height="4.70" rx="2.35" fill="#80e1d9"/><rect x="1274.76" y="818.30" width="23.2" height="4.70" rx="2.35" fill="#ff7557"/><rect x="1274.76" y="766.60" width="23.2" height="50.40" rx="2.50" fill="#7856ff"/><rect x="1304.76" y="823.60" width="23.2" height="5.40" rx="2.50" fill="#80e1d9"/><rect x="1304.76" y="816.50" width="23.2" height="5.80" rx="2.50" fill="#ff7557"/><rect x="1304.76" y="759.80" width="23.2" height="55.40" rx="2.50" fill="#7856ff"/><rect x="1334.76" y="822.80" width="23.2" height="6.20" rx="2.50" fill="#80e1d9"/><rect x="1334.76" y="814.70" width="23.2" height="6.80" rx="2.50" fill="#ff7557"/><rect x="1334.76" y="752.20" width="23.2" height="61.20" rx="2.50" fill="#7856ff"/><rect x="1361.85" y="821.50" width="23.2" height="7.50" rx="2.50" fill="#80e1d9"/><rect x="1361.85" y="811.40" width="23.2" height="8.80" rx="2.50" fill="#ff7557"/><rect x="1361.85" y="743.80" width="23.2" height="66.30" rx="2.50" fill="#7856ff"/><rect x="1391.85" y="819.80" width="23.2" height="9.20" rx="2.50" fill="#80e1d9"/><rect x="1391.85" y="806.60" width="23.2" height="11.90" rx="2.50" fill="#ff7557"/><rect x="1391.85" y="735.00" width="23.2" height="70.30" rx="2.50" fill="#7856ff"/><rect x="1420.88" y="817.20" width="23.2" height="11.80" rx="2.50" fill="#80e1d9"/><rect x="1420.88" y="802.10" width="23.2" height="13.80" rx="2.50" fill="#ff7557"/><rect x="1420.88" y="722.60" width="23.2" height="78.20" rx="2.50" fill="#7856ff"/><rect x="1450.88" y="813.90" width="23.2" height="15.10" rx="2.50" fill="#80e1d9"/><rect x="1450.88" y="795.20" width="23.2" height="17.40" rx="2.50" fill="#ff7557"/><rect x="1450.88" y="708.90" width="23.2" height="85.00" rx="2.50" fill="#7856ff"/><rect x="1479.91" y="809.60" width="23.2" height="19.40" rx="2.50" fill="#80e1d9"/><rect x="1479.91" y="786.90" width="23.2" height="21.40" rx="2.50" fill="#ff7557"/><rect x="1479.91" y="691.90" width="23.2" height="93.70" rx="2.50" fill="#7856ff"/><rect x="1509.91" y="803.80" width="23.2" height="25.20" rx="2.50" fill="#80e1d9"/><rect x="1509.91" y="774.20" width="23.2" height="28.30" rx="2.50" fill="#ff7557"/><rect x="1509.91" y="669.10" width="23.2" height="103.80" rx="2.50" fill="#7856ff"/><rect x="1539.91" y="803.80" width="23.2" height="25.20" rx="2.50" fill="#80e1d9"/><rect x="1539.91" y="774.20" width="23.2" height="28.30" rx="2.50" fill="#ff7557"/><rect x="1539.91" y="669.10" width="23.2" height="103.80" rx="2.50" fill="#7856ff"/></svg>
</body></html>
